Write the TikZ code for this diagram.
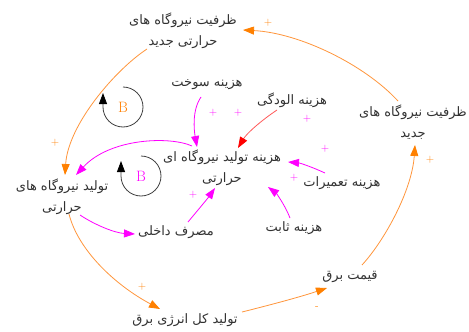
\documentclass[tikz,border=0pt]{standalone}
\usepackage{fontspec}
\usetikzlibrary{arrows.meta,calc}
\TeXXeTstate=1
\newfontfamily\farsi[Script=Arabic]{DejaVu Sans}
\newcommand{\rl}[1]{\beginR #1\endR}
\definecolor{oline}{RGB}{255,150,60}
\definecolor{oarrow}{RGB}{255,128,0}
\definecolor{mline}{RGB}{255,0,255}
\definecolor{rline}{RGB}{255,90,90}
\definecolor{rarrow}{RGB}{255,0,0}
\definecolor{txt}{RGB}{50,50,50}
\tikzset{
  lbl/.style={font=\farsi\fontsize{13}{21}\selectfont, align=center, inner sep=1pt, text=txt},
  bsty/.style={font=\fontsize{15}{15}\selectfont, inner sep=0pt},
  sgn/.style={font=\fontsize{11}{11}\selectfont, inner sep=0pt},
  olink/.style={draw=oline, line width=0.8pt, -{Triangle[length=11pt,width=8pt,color=oarrow]}},
  mlink/.style={draw=mline, line width=0.8pt, -{Triangle[length=11pt,width=8pt,color=mline]}},
  rlink/.style={draw=rline, line width=0.8pt, -{Triangle[length=11pt,width=8pt,color=rarrow]}},
  loopline/.style={draw=black!75, line width=0.8pt, -{Triangle[length=11pt,width=8pt,color=black]}}
}
\begin{document}
\begin{tikzpicture}[x=1pt,y=1pt,yscale=-1]
\useasboundingbox (0,0) rectangle (469,332);
\fill[white] (0,0) rectangle (469,332);

% nodes
\node[lbl] (T) at (183,31) {\rl{ظرفیت نیروگاه های}\\\rl{حرارتی جدید}};
\node[lbl] (R) at (413,122) {\rl{ظرفیت نیروگاه های}\\\rl{جدید}};
\node[lbl] (L) at (62,197) {\rl{تولید نیروگاه های}\\\rl{حرارتی}};
\node[lbl] (D) at (222,168) {\rl{هزینه تولید نیروگاه ای}\\\rl{حرارتی}};
\node[lbl] (E) at (207,85) {\rl{هزینه سوخت}};
\node[lbl] (F) at (292,100) {\rl{هزینه الودگی}};
\node[lbl] (G) at (342,183) {\rl{هزینه تعمیرات}};
\node[lbl] (H) at (294,228) {\rl{هزینه ثابت}};
\node[lbl] (I) at (176,232) {\rl{مصرف داخلی}};
\node[lbl] (J) at (185,320) {\rl{تولید کل انرژی برق}};
\node[lbl] (K) at (350,277) {\rl{قیمت برق}};

% loops
\node[bsty, text=oarrow] (BO) at (123,107) {B};
\node[bsty, text=mline] (BM) at (141,176) {B};
\draw[loopline] ($(BO)+(0,-20)$) arc[start angle=-90, end angle=180, radius=20] -- ++(0,-14);
\draw[loopline] ($(BM)+(0,-20)$) arc[start angle=-90, end angle=180, radius=20] -- ++(0,-15);

% orange links
\draw[olink] ($(R)+(-15,-21)$) .. controls (365,65) and (300,33) .. ($(T)+(60,-1)$);
\draw[olink] ($(T)+(-36,18)$) .. controls (115,70) and (68,125) .. ($(L)+(3,-22)$);
\draw[olink] ($(L)+(7,17)$) .. controls (78,250) and (115,285) .. ($(J)+(-25,-11)$);
\draw[olink] ($(J)+(57,-8)$) .. controls (270,305) and (300,297) .. ($(K)+(-23,11)$);
\draw[olink] ($(K)+(12,-12)$) .. controls (385,240) and (412,190) .. ($(R)+(2,23)$);

% magenta links
\draw[mlink] ($(D)+(-30,-22)$) .. controls (170,136) and (110,138) .. ($(L)+(14,-22)$);
\draw[mlink] ($(E)+(-6,12)$) .. controls (192,110) and (194,130) .. ($(D)+(-25,-21)$);
\draw[mlink] ($(G)+(-17,-10)$) .. controls (312,167) and (300,163) .. ($(D)+(66,-6)$);
\draw[mlink] ($(H)+(-4,-10)$) .. controls (285,205) and (276,193) .. ($(D)+(46,19)$);
\draw[mlink] ($(I)+(12,-10)$) .. controls (198,210) and (208,198) .. ($(D)+(-7,20)$);
\draw[mlink] ($(L)+(18,18)$) .. controls (95,225) and (115,233) .. ($(I)+(-41,2)$);

% red link
\draw[rlink] ($(F)+(-15,10)$) .. controls (262,120) and (247,133) .. ($(D)+(16,-20)$);

% signs
\node[sgn, text=oarrow] (p1) at (268,23) {+};
\node[sgn, text=oarrow] (p2) at (55,143) {+};
\node[sgn, text=oarrow] (p3) at (142,287) {+};
\node[sgn, text=oarrow] (p4) at (430,160) {+};
\node[sgn, text=oarrow] (m1) at (317,308) {-};
\node[sgn, text=mline] (p5) at (213,113) {+};
\node[sgn, text=mline] (p6) at (238,113) {+};
\node[sgn, text=mline] (p7) at (307,119) {+};
\node[sgn, text=mline] (p8) at (325,149) {+};
\node[sgn, text=mline] (p9) at (294,178) {+};
\node[sgn, text=mline] (p10) at (193,195) {+};
\end{tikzpicture}
\end{document}
